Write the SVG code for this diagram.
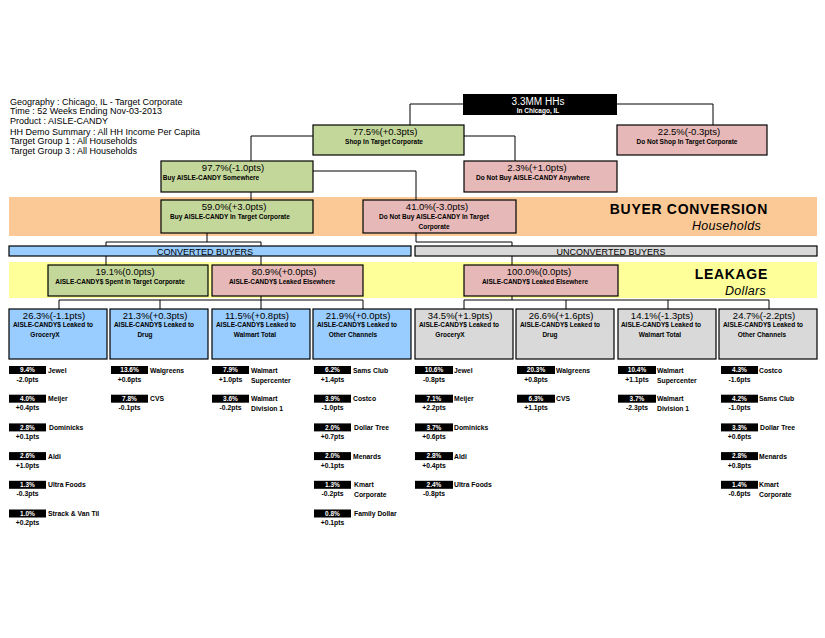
<svg xmlns="http://www.w3.org/2000/svg" width="825" height="638" viewBox="0 0 825 638">
<style>
text{font-family:"Liberation Sans",Arial,sans-serif;fill:#000}
.box{stroke:#000;stroke-width:1.2}
.g{fill:#c4d79b}.p{fill:#e6b8b7}.b{fill:#99ccff}.gr{fill:#d9d9d9}
.t{font-size:9.5px;text-anchor:middle}
.s{font-size:6.5px;font-weight:bold;text-anchor:middle}
.info{font-size:9px}
.conn path{fill:none;stroke:#000;stroke-width:1}
.lv{font-size:6.5px;font-weight:bold;fill:#fff;text-anchor:middle}
.ln{font-size:6.8px;font-weight:bold}
.lp{font-size:6.8px;font-weight:bold;text-anchor:middle}
.bar{font-size:9px;text-anchor:middle}
.big{font-size:14px;font-weight:bold;letter-spacing:0.7px;text-anchor:end}
.it{font-size:12.5px;font-style:italic;letter-spacing:0.3px;text-anchor:end}
</style>
<rect width="825" height="638" fill="#fff"/>

<g id="info">
<text class="info" x="10" y="104.5">Geography : Chicago, IL - Target Corporate</text>
<text class="info" x="10" y="114">Time : 52 Weeks Ending Nov-03-2013</text>
<text class="info" x="10" y="124">Product : AISLE-CANDY</text>
<text class="info" x="10" y="134.5">HH Demo Summary : All HH Income Per Capita</text>
<text class="info" x="10" y="144">Target Group 1 : All Households</text>
<text class="info" x="10" y="154">Target Group 3 : All Households</text>
</g>

<g id="bands">
<rect x="9" y="197" width="808" height="39" fill="#fbc996"/>
<rect x="9" y="262" width="808" height="36" fill="#ffff99"/>
<text class="big" x="768" y="214">BUYER CONVERSION</text>
<text class="it" x="761" y="230">Households</text>
<text class="big" x="768" y="279">LEAKAGE</text>
<text class="it" x="766" y="295">Dollars</text>
</g>

<g class="conn" id="connectors">
<path d="M463,104H410V125"/>
<path d="M617,104H713V125"/>
<path d="M313,136H251V161"/>
<path d="M464,136H515V161"/>
<path d="M313,171H416V200"/>
<path d="M251,192V200"/>
<path d="M207,233V242"/>
<path d="M106,246V242H261V246"/>
<path d="M416,233V242H512V246"/>
<path d="M106,256V265"/>
<path d="M261,256V265"/>
<path d="M512,256V265"/>
<path d="M261,296V300"/>
<path d="M59,309V300H363V309"/>
<path d="M160,300V309"/>
<path d="M261,300V309"/>
<path d="M512,296V300"/>
<path d="M464,309V300H769V309"/>
<path d="M566,300V309"/>
<path d="M668,300V309"/>
</g>

<g id="root">
<rect x="463" y="94" width="154" height="21" fill="#000"/>
<text class="t" x="538" y="104.5" style="fill:#fff;font-size:10px">3.3MM HHs</text>
<text class="s" x="538" y="112.5" style="fill:#fff">In Chicago, IL</text>
</g>
<g id="shop">
<rect class="box g" x="313" y="125" width="151" height="30"/>
<text class="t" x="385" y="134.5">77.5%(+0.3pts)</text>
<text class="s" x="384" y="143.5">Shop In Target Corporate</text>
</g>
<g id="noshop">
<rect class="box p" x="617" y="125" width="150" height="30"/>
<text class="t" x="689" y="134.5">22.5%(-0.3pts)</text>
<text class="s" x="687" y="143.5">Do Not Shop In Target Corporate</text>
</g>
<g id="buysomewhere">
<rect class="box g" x="161" y="161" width="152" height="31"/>
<text class="t" x="233" y="171">97.7%(-1.0pts)</text>
<text class="s" x="211" y="180">Buy AISLE-CANDY Somewhere</text>
</g>
<g id="nobuy">
<rect class="box p" x="464" y="161" width="153" height="31"/>
<text class="t" x="537" y="170.5">2.3%(+1.0pts)</text>
<text class="s" x="533" y="179.5">Do Not Buy AISLE-CANDY Anywhere</text>
</g>
<g id="buyintarget">
<rect class="box g" x="161" y="200" width="152" height="33"/>
<text class="t" x="234" y="210">59.0%(+3.0pts)</text>
<text class="s" x="230" y="219">Buy AISLE-CANDY In Target Corporate</text>
</g>
<g id="nobuyintarget">
<rect class="box p" x="363" y="200" width="153" height="33"/>
<text class="t" x="437" y="210">41.0%(-3.0pts)</text>
<text class="s" x="434" y="219">Do Not Buy AISLE-CANDY In Target</text>
<text class="s" x="434" y="228.5">Corporate</text>
</g>

<g id="converted">
<rect class="box b" x="9" y="246" width="402" height="10"/>
<text class="bar" x="205" y="254.5">CONVERTED BUYERS</text>
</g>
<g id="unconverted">
<rect class="box gr" x="415" y="246" width="402" height="10"/>
<text class="bar" x="611" y="254.5">UNCONVERTED BUYERS</text>
</g>

<g id="spent">
<rect class="box g" x="48" y="265" width="160" height="31"/>
<text class="t" x="125" y="275">19.1%(0.0pts)</text>
<text class="s" x="120" y="284">AISLE-CANDY$ Spent In Target Corporate</text>
</g>
<g id="leaked-conv">
<rect class="box p" x="212" y="265" width="151" height="31"/>
<text class="t" x="284" y="275">80.9%(+0.0pts)</text>
<text class="s" x="282" y="284">AISLE-CANDY$ Leaked Elsewhere</text>
</g>
<g id="leaked-unconv">
<rect class="box p" x="464" y="265" width="154" height="31"/>
<text class="t" x="539" y="275">100.0%(0.0pts)</text>
<text class="s" x="535" y="284">AISLE-CANDY$ Leaked Elsewhere</text>
</g>

<g id="c-grocery">
<rect class="box b" x="9" y="309" width="98" height="50"/>
<text class="t" x="54" y="318.5">26.3%(-1.1pts)</text>
<text class="s" x="53" y="326.5">AISLE-CANDY$ Leaked to</text>
<text class="s" x="45" y="336.5">GroceryX</text>
</g>
<g id="c-drug">
<rect class="box b" x="110" y="309" width="98" height="50"/>
<text class="t" x="155" y="318.5">21.3%(+0.3pts)</text>
<text class="s" x="154" y="326.5">AISLE-CANDY$ Leaked to</text>
<text class="s" x="145" y="336.5">Drug</text>
</g>
<g id="c-walmart">
<rect class="box b" x="212" y="309" width="98" height="50"/>
<text class="t" x="257" y="318.5">11.5%(+0.8pts)</text>
<text class="s" x="256" y="326.5">AISLE-CANDY$ Leaked to</text>
<text class="s" x="255" y="336.5">Walmart Total</text>
</g>
<g id="c-other">
<rect class="box b" x="313" y="309" width="98" height="50"/>
<text class="t" x="358" y="318.5">21.9%(+0.0pts)</text>
<text class="s" x="357" y="326.5">AISLE-CANDY$ Leaked to</text>
<text class="s" x="353" y="336.5">Other Channels</text>
</g>
<g id="u-grocery">
<rect class="box gr" x="415" y="309" width="98" height="50"/>
<text class="t" x="460" y="318.5">34.5%(+1.9pts)</text>
<text class="s" x="459" y="326.5">AISLE-CANDY$ Leaked to</text>
<text class="s" x="450" y="336.5">GroceryX</text>
</g>
<g id="u-drug">
<rect class="box gr" x="516" y="309" width="98" height="50"/>
<text class="t" x="561" y="318.5">26.6%(+1.6pts)</text>
<text class="s" x="560" y="326.5">AISLE-CANDY$ Leaked to</text>
<text class="s" x="550" y="336.5">Drug</text>
</g>
<g id="u-walmart">
<rect class="box gr" x="618" y="309" width="98" height="50"/>
<text class="t" x="662" y="318.5">14.1%(-1.3pts)</text>
<text class="s" x="661" y="326.5">AISLE-CANDY$ Leaked to</text>
<text class="s" x="660" y="336.5">Walmart Total</text>
</g>
<g id="u-other">
<rect class="box gr" x="719" y="309" width="98" height="50"/>
<text class="t" x="764" y="318.5">24.7%(-2.2pts)</text>
<text class="s" x="763" y="326.5">AISLE-CANDY$ Leaked to</text>
<text class="s" x="762" y="336.5">Other Channels</text>
</g>

<g id="list-conv-grocery">
<g transform="translate(9,366)"><rect width="37" height="8"/><text class="lv" x="18.5" y="6.3">9.4%</text><text class="ln" x="39" y="6.5">Jewel</text><text class="lp" x="18.5" y="15.5">-2.0pts</text></g>
<g transform="translate(9,394.7)"><rect width="37" height="8"/><text class="lv" x="18.5" y="6.3">4.0%</text><text class="ln" x="39" y="6.5">Meijer</text><text class="lp" x="18.5" y="15.5">+0.4pts</text></g>
<g transform="translate(9,423.4)"><rect width="37" height="8"/><text class="lv" x="18.5" y="6.3">2.8%</text><text class="ln" x="40" y="6.5">Dominicks</text><text class="lp" x="18.5" y="15.5">+0.1pts</text></g>
<g transform="translate(9,452.1)"><rect width="37" height="8"/><text class="lv" x="18.5" y="6.3">2.6%</text><text class="ln" x="39" y="6.5">Aldi</text><text class="lp" x="18.5" y="15.5">+1.0pts</text></g>
<g transform="translate(9,480.8)"><rect width="37" height="8"/><text class="lv" x="18.5" y="6.3">1.3%</text><text class="ln" x="39" y="6.5">Ultra Foods</text><text class="lp" x="18.5" y="15.5">-0.3pts</text></g>
<g transform="translate(9,509.5)"><rect width="37" height="8"/><text class="lv" x="18.5" y="6.3">1.0%</text><text class="ln" x="39" y="6.5">Strack &amp; Van Til</text><text class="lp" x="18.5" y="15.5">+0.2pts</text></g>
</g>
<g id="list-conv-drug">
<g transform="translate(111,366)"><rect width="37" height="8"/><text class="lv" x="18.5" y="6.3">13.6%</text><text class="ln" x="39" y="6.5">Walgreens</text><text class="lp" x="18.5" y="15.5">+0.6pts</text></g>
<g transform="translate(111,394.7)"><rect width="37" height="8"/><text class="lv" x="18.5" y="6.3">7.8%</text><text class="ln" x="39" y="6.5">CVS</text><text class="lp" x="18.5" y="15.5">-0.1pts</text></g>
</g>
<g id="list-conv-walmart">
<g transform="translate(212,366)"><rect width="37" height="8"/><text class="lv" x="18.5" y="6.3">7.9%</text><text class="ln" x="39" y="6.5">Walmart</text><text class="ln" x="39" y="16.5">Supercenter</text><text class="lp" x="18.5" y="15.5">+1.0pts</text></g>
<g transform="translate(212,394.7)"><rect width="37" height="8"/><text class="lv" x="18.5" y="6.3">3.6%</text><text class="ln" x="39" y="6.5">Walmart</text><text class="ln" x="39" y="16.5">Division 1</text><text class="lp" x="18.5" y="15.5">-0.2pts</text></g>
</g>
<g id="list-conv-other">
<g transform="translate(314,366)"><rect width="37" height="8"/><text class="lv" x="18.5" y="6.3">6.2%</text><text class="ln" x="39" y="6.5">Sams Club</text><text class="lp" x="18.5" y="15.5">+1.4pts</text></g>
<g transform="translate(314,394.7)"><rect width="37" height="8"/><text class="lv" x="18.5" y="6.3">3.9%</text><text class="ln" x="39" y="6.5">Costco</text><text class="lp" x="18.5" y="15.5">-1.0pts</text></g>
<g transform="translate(314,423.4)"><rect width="37" height="8"/><text class="lv" x="18.5" y="6.3">2.0%</text><text class="ln" x="40" y="6.5">Dollar Tree</text><text class="lp" x="18.5" y="15.5">+0.7pts</text></g>
<g transform="translate(314,452.1)"><rect width="37" height="8"/><text class="lv" x="18.5" y="6.3">2.0%</text><text class="ln" x="39" y="6.5">Menards</text><text class="lp" x="18.5" y="15.5">+0.1pts</text></g>
<g transform="translate(314,480.8)"><rect width="37" height="8"/><text class="lv" x="18.5" y="6.3">1.3%</text><text class="ln" x="40" y="6.5">Kmart</text><text class="ln" x="40" y="16.5">Corporate</text><text class="lp" x="18.5" y="15.5">-0.2pts</text></g>
<g transform="translate(314,509.5)"><rect width="37" height="8"/><text class="lv" x="18.5" y="6.3">0.8%</text><text class="ln" x="40" y="6.5">Family Dollar</text><text class="lp" x="18.5" y="15.5">+0.1pts</text></g>
</g>
<g id="list-unconv-grocery">
<g transform="translate(415,366)"><rect width="38" height="8"/><text class="lv" x="19" y="6.3">10.6%</text><text class="ln" x="39" y="6.5">Jewel</text><text class="lp" x="19" y="15.5">-0.8pts</text></g>
<g transform="translate(415,394.7)"><rect width="38" height="8"/><text class="lv" x="19" y="6.3">7.1%</text><text class="ln" x="39" y="6.5">Meijer</text><text class="lp" x="19" y="15.5">+2.2pts</text></g>
<g transform="translate(415,423.4)"><rect width="38" height="8"/><text class="lv" x="19" y="6.3">3.7%</text><text class="ln" x="39" y="6.5">Dominicks</text><text class="lp" x="19" y="15.5">+0.6pts</text></g>
<g transform="translate(415,452.1)"><rect width="38" height="8"/><text class="lv" x="19" y="6.3">2.8%</text><text class="ln" x="39" y="6.5">Aldi</text><text class="lp" x="19" y="15.5">+0.4pts</text></g>
<g transform="translate(415,480.8)"><rect width="38" height="8"/><text class="lv" x="19" y="6.3">2.4%</text><text class="ln" x="39" y="6.5">Ultra Foods</text><text class="lp" x="19" y="15.5">-0.8pts</text></g>
</g>
<g id="list-unconv-drug">
<g transform="translate(517,366)"><rect width="38" height="8"/><text class="lv" x="19" y="6.3">20.3%</text><text class="ln" x="39" y="6.5">Walgreens</text><text class="lp" x="19" y="15.5">+0.8pts</text></g>
<g transform="translate(517,394.7)"><rect width="38" height="8"/><text class="lv" x="19" y="6.3">6.3%</text><text class="ln" x="39" y="6.5">CVS</text><text class="lp" x="19" y="15.5">+1.1pts</text></g>
</g>
<g id="list-unconv-walmart">
<g transform="translate(618,366)"><rect width="38" height="8"/><text class="lv" x="19" y="6.3">10.4%</text><text class="ln" x="39" y="6.5">Walmart</text><text class="ln" x="39" y="16.5">Supercenter</text><text class="lp" x="19" y="15.5">+1.1pts</text></g>
<g transform="translate(618,394.7)"><rect width="38" height="8"/><text class="lv" x="19" y="6.3">3.7%</text><text class="ln" x="39" y="6.5">Walmart</text><text class="ln" x="39" y="16.5">Division 1</text><text class="lp" x="19" y="15.5">-2.3pts</text></g>
</g>
<g id="list-unconv-other">
<g transform="translate(721,366)"><rect width="37" height="8"/><text class="lv" x="18.5" y="6.3">4.3%</text><text class="ln" x="38" y="6.5">Costco</text><text class="lp" x="18.5" y="15.5">-1.6pts</text></g>
<g transform="translate(721,394.7)"><rect width="37" height="8"/><text class="lv" x="18.5" y="6.3">4.2%</text><text class="ln" x="38" y="6.5">Sams Club</text><text class="lp" x="18.5" y="15.5">-1.0pts</text></g>
<g transform="translate(721,423.4)"><rect width="37" height="8"/><text class="lv" x="18.5" y="6.3">3.3%</text><text class="ln" x="39" y="6.5">Dollar Tree</text><text class="lp" x="18.5" y="15.5">+0.6pts</text></g>
<g transform="translate(721,452.1)"><rect width="37" height="8"/><text class="lv" x="18.5" y="6.3">2.8%</text><text class="ln" x="38" y="6.5">Menards</text><text class="lp" x="18.5" y="15.5">+0.8pts</text></g>
<g transform="translate(721,480.8)"><rect width="37" height="8"/><text class="lv" x="18.5" y="6.3">1.4%</text><text class="ln" x="38" y="6.5">Kmart</text><text class="ln" x="38" y="16.5">Corporate</text><text class="lp" x="18.5" y="15.5">-0.6pts</text></g>
</g>
</svg>
